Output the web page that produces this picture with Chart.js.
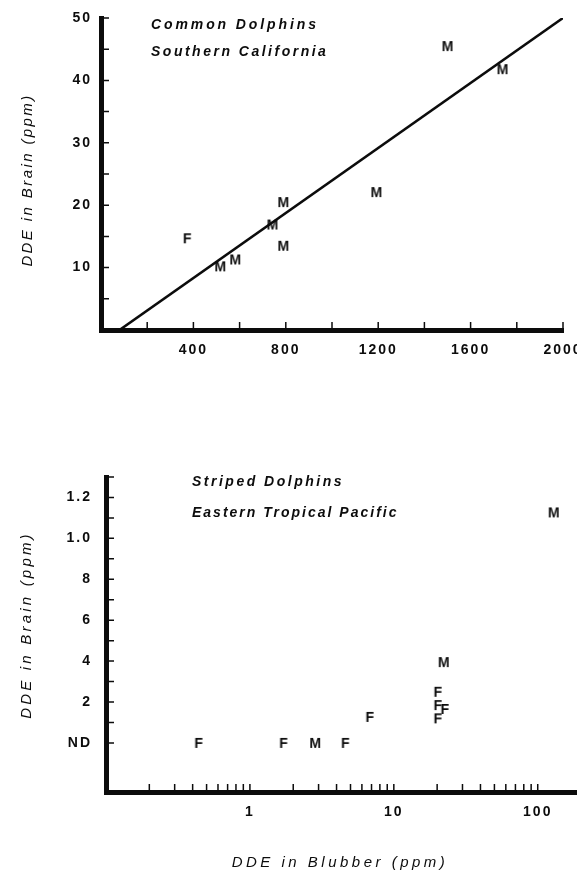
<!DOCTYPE html>
<html>
<head>
<meta charset="utf-8">
<script src="https://cdn.jsdelivr.net/npm/chart.js@4.4.1/dist/chart.umd.min.js"></script>
<style>
  html, body { margin: 0; padding: 0; background: #fff; }
  body { width: 577px; height: 880px; position: relative; overflow: hidden; }
  canvas { position: absolute; left: 0; }
  #common { top: 0; }
  #striped { top: 440px; }
</style>
</head>
<body>
<canvas id="common" width="600" height="440"></canvas>
<canvas id="striped" width="600" height="440"></canvas>
<script>
// upper panel: common dolphins, southern California (DDE ppm)
var commonMaleBlubber = [516, 581, 742, 789, 789, 1192, 1500, 1738];
var commonMaleBrain = [10.2, 11.3, 16.9, 20.5, 13.5, 22.1, 45.5, 41.8];
var commonFemaleBlubber = [373];
var commonFemaleBrain = [14.7];
var fitBlubber = [80, 2000];
var fitBrain = [0, 50];

var commonXTicks = [200, 400, 600, 800, 1000, 1200, 1400, 1600, 1800, 2000];
var commonXLabelValues = [400, 800, 1200, 1600, 2000];
var commonXLabels = ['400', '800', '1200', '1600', '2000'];
var commonYTicks = [5, 10, 15, 20, 25, 30, 35, 40, 45, 50];
var commonYLabelValues = [10, 20, 30, 40, 50];
var commonYLabels = ['10', '20', '30', '40', '50'];

// lower panel: striped dolphins, eastern tropical Pacific (ND = not detected)
var stripedMaleBlubber = [2.84, 22.2, 129];
var stripedMaleBrain = [0, 0.395, 1.127];
var stripedFemaleBlubber = [0.44, 1.71, 4.6, 6.8, 20.2, 20.2, 20.2, 22.6];
var stripedFemaleBrain = [0, 0, 0, 0.127, 0.25, 0.185, 0.12, 0.166];

var stripedXTicks = [0.2, 0.3, 0.4, 0.5, 0.6, 0.7, 0.8, 0.9, 1,
                     2, 3, 4, 5, 6, 7, 8, 9, 10,
                     20, 30, 40, 50, 60, 70, 80, 90, 100, 200];
var stripedXLabelValues = [1, 10, 100];
var stripedXLabels = ['1', '10', '100'];
var stripedYTicks = [0, 0.1, 0.2, 0.3, 0.4, 0.5, 0.6, 0.7, 0.8, 0.9, 1.0, 1.1, 1.2, 1.3];
var stripedYLabelValues = [0, 0.2, 0.4, 0.6, 0.8, 1.0, 1.2];
var stripedYLabels = ['ND', '2', '4', '6', '8', '1.0', '1.2'];

var INK = '#0c0c0c';
var FONT = '"Liberation Sans", Arial, sans-serif';

function xy(xs, ys) {
  return xs.map(function(x, i) { return {x: x, y: ys[i]}; });
}

function labelFor(v, values, labels) {
  for (var i = 0; i < values.length; i++) {
    if (Math.abs(values[i] - v) < 1e-6) return labels[i];
  }
  return '';
}

// M / F letters are the markers
function letterMark(ch) {
  var c = document.createElement('canvas');
  c.width = 18; c.height = 18;
  var g = c.getContext('2d');
  g.font = 'bold 14px ' + FONT;
  g.fillStyle = INK;
  g.textAlign = 'center';
  g.textBaseline = 'alphabetic';
  g.fillText(ch, 9, 14);
  return c;
}

function fixBox(s, size) {
  if (s.isHorizontal()) s.height = size; else s.width = size;
  s.paddingLeft = s.paddingRight = s.paddingTop = s.paddingBottom = 0;
}

function setTicks(list) {
  return function(s) { s.ticks = list.map(function(v) { return {value: v}; }); };
}

// tick marks point into the plot, like the original
var innerTicks = {
  id: 'innerTicks',
  beforeDraw: function(chart) { chart.ctx.letterSpacing = '2px'; },
  afterDraw: function(chart) {
    var ctx = chart.ctx, a = chart.chartArea;
    var xs = chart.scales.x, ys = chart.scales.y;
    ctx.save();
    ctx.strokeStyle = INK;
    ctx.lineWidth = 1.5;
    ctx.beginPath();
    xs.ticks.forEach(function(t) {
      var px = xs.getPixelForValue(t.value);
      ctx.moveTo(px, a.bottom);
      ctx.lineTo(px, a.bottom - 8);
    });
    ys.ticks.forEach(function(t) {
      var py = ys.getPixelForValue(t.value);
      ctx.moveTo(a.left, py);
      ctx.lineTo(a.left + 8, py);
    });
    ctx.stroke();
    ctx.restore();
  }
};

function panelText(items) {
  return {
    id: 'panelText',
    afterDraw: function(chart) {
      var ctx = chart.ctx;
      items.forEach(function(it) {
        ctx.save();
        ctx.font = it.font;
        ctx.fillStyle = INK;
        ctx.letterSpacing = it.spacing + 'px';
        ctx.textAlign = it.align || 'left';
        ctx.textBaseline = 'middle';
        ctx.translate(it.x, it.y);
        if (it.rotate) ctx.rotate(-Math.PI / 2);
        ctx.fillText(it.text, 0, 0);
        ctx.restore();
      });
    }
  };
}

function axisOpts(extra) {
  var o = {
    grid: {display: false, drawTicks: false},
    border: {display: true, color: INK, width: 5}
  };
  for (var k in extra) o[k] = extra[k];
  return o;
}

var tickFont = {family: FONT, size: 14, weight: 'bold'};
var noteFont = 'italic bold 14px ' + FONT;
var titleFont = 'italic 15px ' + FONT;

var common = new Chart(document.getElementById('common'), {
  type: 'scatter',
  data: {
    datasets: [
      {data: xy(commonMaleBlubber, commonMaleBrain), pointStyle: letterMark('M')},
      {data: xy(commonFemaleBlubber, commonFemaleBrain), pointStyle: letterMark('F')},
      {data: xy(fitBlubber, fitBrain), showLine: true, pointRadius: 0, borderColor: INK, borderWidth: 2.6}
    ]
  },
  options: {
    responsive: false,
    animation: false,
    events: [],
    layout: {padding: {top: 18, left: 0, right: 37, bottom: 60}},
    plugins: {legend: {display: false}, tooltip: {enabled: false}},
    scales: {
      x: axisOpts({
        type: 'linear', min: 0, max: 2000,
        afterBuildTicks: setTicks(commonXTicks),
        afterFit: function(s) { fixBox(s, 50); },
        ticks: {autoSkip: false, maxRotation: 0, padding: 12, color: INK, font: tickFont,
          callback: function(v) { return labelFor(v, commonXLabelValues, commonXLabels); }}
      }),
      y: axisOpts({
        type: 'linear', min: 0, max: 50,
        afterBuildTicks: setTicks(commonYTicks),
        afterFit: function(s) { fixBox(s, 101); },
        ticks: {autoSkip: false, padding: 9, color: INK, font: tickFont,
          callback: function(v) { return labelFor(v, commonYLabelValues, commonYLabels); }}
      })
    }
  },
  plugins: [innerTicks, panelText([
    {text: 'Common Dolphins', x: 151, y: 25, font: noteFont, spacing: 2.9},
    {text: 'Southern California', x: 151, y: 52, font: noteFont, spacing: 2.5},
    {text: 'DDE in Brain (ppm)', x: 28, y: 180, font: titleFont, spacing: 2.4, align: 'center', rotate: true}
  ])]
});

var striped = new Chart(document.getElementById('striped'), {
  type: 'scatter',
  data: {
    datasets: [
      {data: xy(stripedMaleBlubber, stripedMaleBrain), pointStyle: letterMark('M')},
      {data: xy(stripedFemaleBlubber, stripedFemaleBrain), pointStyle: letterMark('F')}
    ]
  },
  options: {
    responsive: false,
    animation: false,
    events: [],
    layout: {padding: {top: 37, left: 0, right: 0, bottom: 38}},
    plugins: {legend: {display: false}, tooltip: {enabled: false}},
    scales: {
      x: axisOpts({
        type: 'logarithmic', min: 0.1, max: 250,
        afterBuildTicks: setTicks(stripedXTicks),
        afterFit: function(s) { fixBox(s, 50); },
        ticks: {autoSkip: false, maxRotation: 0, padding: 12, color: INK, font: tickFont,
          callback: function(v) { return labelFor(v, stripedXLabelValues, stripedXLabels); }}
      }),
      y: axisOpts({
        type: 'linear', min: -0.24, max: 1.3,
        afterBuildTicks: setTicks(stripedYTicks),
        afterFit: function(s) { fixBox(s, 106); },
        ticks: {autoSkip: false, padding: 14, color: INK, font: tickFont,
          callback: function(v) { return labelFor(v, stripedYLabelValues, stripedYLabels); }}
      })
    }
  },
  plugins: [innerTicks, panelText([
    {text: 'Striped Dolphins', x: 192, y: 42, font: noteFont, spacing: 2.5},
    {text: 'Eastern Tropical Pacific', x: 192, y: 73, font: noteFont, spacing: 2.0},
    {text: 'DDE in Brain (ppm)', x: 27, y: 185, font: titleFont, spacing: 3.2, align: 'center', rotate: true},
    {text: 'DDE in Blubber (ppm)', x: 340, y: 423, font: titleFont, spacing: 3.5, align: 'center'}
  ])]
});
</script>
</body>
</html>
